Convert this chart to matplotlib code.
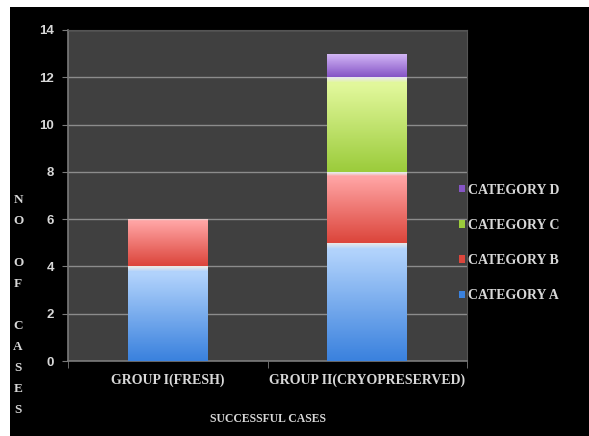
import matplotlib
matplotlib.use("Agg")
import matplotlib.pyplot as plt
import numpy as np
from matplotlib.colors import LinearSegmentedColormap
from matplotlib.patches import Rectangle

# data
groups = ["GROUP I(FRESH)", "GROUP II(CRYOPRESERVED)"]
cat_a = [4, 5]
cat_b = [2, 3]
cat_c = [0, 4]
cat_d = [0, 1]
series_names = ["CATEGORY A", "CATEGORY B", "CATEGORY C", "CATEGORY D"]
yticks = [0, 2, 4, 6, 8, 10, 12, 14]

# (top colour, bottom colour) of each gradient
grads = [("#b2d3fc", "#3b82de"),
         ("#ffa4a4", "#dc463c"),
         ("#e2f89c", "#9ccc3c"),
         ("#cfb2f4", "#8655c6")]

txt = "#d8d8d8"

fig = plt.figure(figsize=(5.89, 4.36), dpi=100, facecolor="white")
fig.patches.append(Rectangle((10/589, 0), 1, (436-7)/436, transform=fig.transFigure,
                             facecolor="black", edgecolor="none", zorder=-10))

ax = fig.add_axes([68/589, (436-361)/436, 399/589, 331/436])
ax.set_facecolor("#404040")

x = np.arange(len(groups))
bottom = np.zeros(len(groups))
handles = []
for vals, name, (c_top, c_bot) in zip([cat_a, cat_b, cat_c, cat_d], series_names, grads):
    vals = np.array(vals, dtype=float)
    bars = ax.bar(x, vals, 0.4, bottom=bottom, color=c_bot, edgecolor="none",
                  label=name, zorder=3)
    cmap = LinearSegmentedColormap.from_list("g", ["#e8e8e8", c_top, c_bot])
    grad = np.concatenate([np.linspace(0, 0.5, 3), np.linspace(0.5, 1, 40)])[:, None]
    for b in bars:
        if b.get_height() <= 0:
            continue
        x0, y0, w, h = b.get_x(), b.get_y(), b.get_width(), b.get_height()
        im = ax.imshow(grad, cmap=cmap, aspect="auto", extent=(x0, x0 + w, y0, y0 + h),
                       origin="upper", zorder=4, interpolation="bilinear")
        im.set_clip_path(b)
    handles.append(bars)
    bottom = bottom + vals

ax.set_xlim(-0.5, 1.5)
ax.set_ylim(0, 14)
ax.set_yticks(yticks)
ax.yaxis.grid(True, color="#8c8c8c", linewidth=1.0, zorder=1)
ax.set_axisbelow(True)

for s in ["top", "right"]:
    ax.spines[s].set_color("#555555")
for s in ["left", "bottom"]:
    ax.spines[s].set_color("#7a7a7a")
    ax.spines[s].set_linewidth(1.2)

ax.tick_params(axis="y", colors="#7a7a7a", length=4, labelcolor=txt, labelsize=9.5, pad=6)
for lb in ax.get_yticklabels():
    lb.set_fontweight("bold")
    lb.set_family("Liberation Sans")

ax.set_xticks(x)
ax.set_xticklabels(groups, fontsize=10, color=txt, family="Liberation Serif",
                   fontweight="bold")
ax.tick_params(axis="x", length=0, pad=9)
ax.set_xticks([-0.5, 0.5, 1.5], minor=True)
ax.tick_params(axis="x", which="minor", length=5, color="#7a7a7a")

ax.set_xlabel("SUCCESSFUL CASES", fontsize=8.5, color=txt, family="Liberation Serif",
              fontweight="bold", labelpad=19)

fig.text(18/589, 131/436, "N\nO\n\nO\nF\n\nC\nA\nS\nE\nS", ha="center", va="center",
         fontsize=9.5, color=txt, family="Liberation Serif", fontweight="bold",
         linespacing=2.0)

leg = ax.legend(handles[::-1], series_names[::-1], loc="center left",
                bbox_to_anchor=(446/589, (436-243)/436), bbox_transform=fig.transFigure,
                frameon=False, handlelength=0.45, handleheight=0.45, handletextpad=0.2,
                labelspacing=1.6, prop={"family": "Liberation Serif", "weight": "bold",
                                        "size": 10})
for t in leg.get_texts():
    t.set_color(txt)

fig.savefig("out.png", dpi=100, facecolor=fig.get_facecolor())
